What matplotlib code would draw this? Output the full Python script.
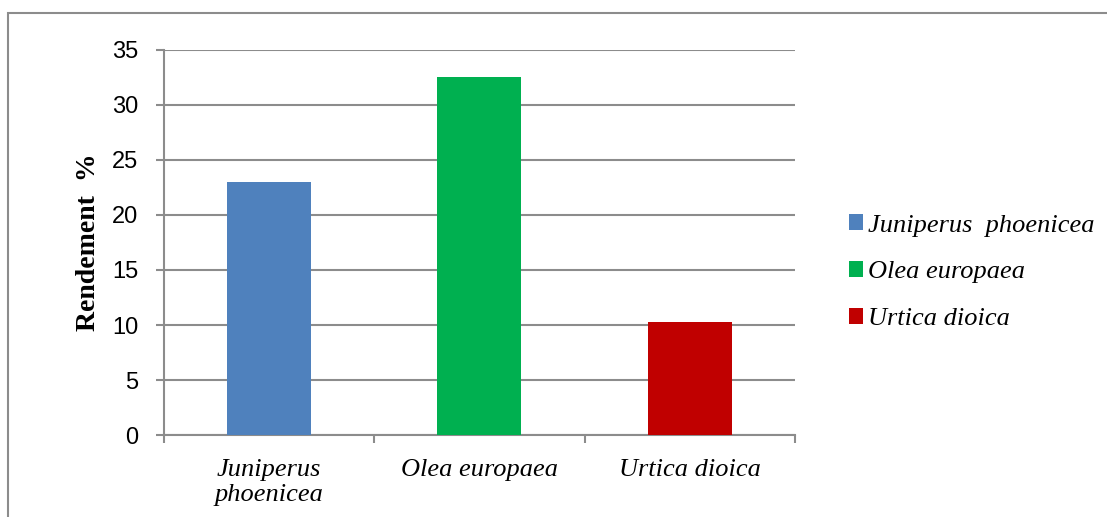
import matplotlib.pyplot as plt
from matplotlib.patches import Rectangle

# Rendement par espèce (%)
especes = ['Juniperus  phoenicea', 'Olea europaea', 'Urtica dioica']
etiquettes_x = ['Juniperus\nphoenicea', 'Olea europaea', 'Urtica dioica']
rendement = [23.0, 32.5, 10.3]
couleurs = ['#4F81BD', '#00B050', '#C00000']
graduations_y = [0, 5, 10, 15, 20, 25, 30, 35]

gris = '#8C8C8C'

fig = plt.figure(figsize=(11.07, 5.17), dpi=100)
ax = fig.add_axes([0.1477, 0.1586, 0.5705, 0.7447])

# cadre extérieur du graphique
fig.patches.append(Rectangle((0.0072, -0.1), 1.1, 0.1 + 0.9749, transform=fig.transFigure,
                             fill=False, edgecolor=gris, linewidth=1.5))

positions = range(len(especes))
for x, v, c, nom in zip(positions, rendement, couleurs, especes):
    ax.bar(x, v, width=0.4, color=c, label=nom, zorder=3)

ax.set_xlim(-0.5, 2.5)
ax.set_ylim(0, 35)
ax.set_yticks(graduations_y)
ax.set_yticklabels([str(t) for t in graduations_y], fontfamily='Liberation Sans', fontsize=17)
ax.yaxis.grid(True, color=gris, linewidth=1.5, zorder=0)

ax.set_xticks([0.5 + i for i in range(-1, 3)], minor=False)
ax.set_xticklabels([])
ax.set_xticks(list(positions), minor=True)
ax.set_xticklabels(etiquettes_x, minor=True, fontfamily='Liberation Serif',
                   fontstyle='italic', fontsize=19)
ax.tick_params(axis='x', which='minor', length=0, pad=17)
ax.tick_params(axis='x', which='major', length=6, width=1.5, color=gris, direction='out')
ax.tick_params(axis='y', length=6, width=1.5, color=gris, pad=12)

for s in ['top', 'right']:
    ax.spines[s].set_visible(False)
for s in ['left', 'bottom']:
    ax.spines[s].set_color(gris)
    ax.spines[s].set_linewidth(1.5)

ax.set_ylabel('Rendement  %', fontfamily='Liberation Serif', fontweight='bold', fontsize=20)
ax.yaxis.set_label_coords(-0.099, 0.5)

ax.legend(loc='upper left', bbox_to_anchor=(0.757, 0.606), bbox_transform=fig.transFigure,
          frameon=False, prop={'family': 'Liberation Serif', 'style': 'italic', 'size': 19},
          handlelength=0.55, handleheight=0.55, handletextpad=0.2, labelspacing=0.93,
          borderaxespad=0)

fig.savefig('out.png', dpi=100)
